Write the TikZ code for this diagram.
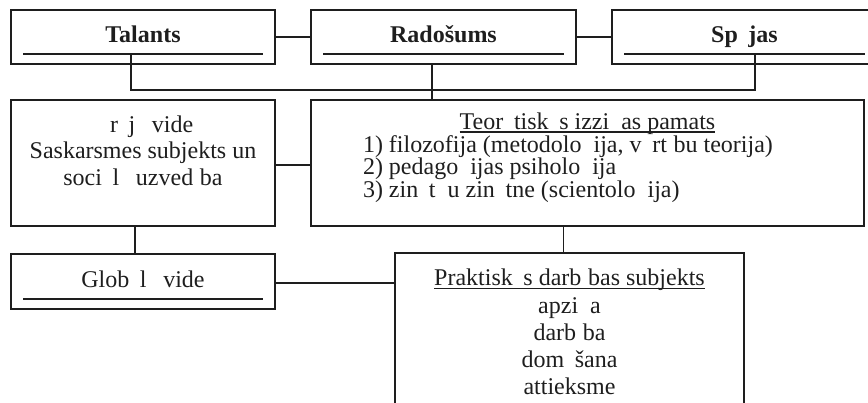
\documentclass[tikz,border=0pt]{standalone}
\usepackage{fontspec}
\setmainfont{Liberation Serif}
\newcommand\miss[1]{\phantom{#1}}
\definecolor{ink}{HTML}{1E1E1E}
\begin{document}
\begin{tikzpicture}[x=1pt,y=-1pt,
  box/.style={draw=ink,line width=1.7pt,inner sep=0pt,outer sep=0pt},
  conn/.style={draw=ink,line width=1.4pt},
  uline/.style={draw=ink,line width=1.3pt},
  txt/.style={inner sep=0pt,outer sep=0pt,anchor=base,text=ink,font=\fontsize{24}{27}\selectfont},
  ltxt/.style={txt,anchor=base west}]
\clip (0,0) rectangle (868,402);
\useasboundingbox (0,0) rectangle (868,402);
% boxes
\node[box,minimum width=264pt,minimum height=54pt] (tal) at (143,37) {};
\node[box,minimum width=265pt,minimum height=54pt] (rad) at (443.5,37) {};
\node[box,minimum width=265pt,minimum height=54pt] (spe) at (744.5,37) {};
\node[box,minimum width=264pt,minimum height=126pt] (sub) at (143,163) {};
\node[box,minimum width=553pt,minimum height=126pt] (teor) at (587.5,163) {};
\node[box,minimum width=264pt,minimum height=55pt] (glob) at (143,281.5) {};
\node[box,minimum width=349pt,minimum height=200pt] (prak) at (569.5,353) {};
% underlines in boxes
\foreach \b in {tal,rad,spe,glob}{
  \draw[uline] ([xshift=12pt,yshift=10pt]\b.south west) -- ([xshift=-12pt,yshift=10pt]\b.south east);
}
% texts
\node[txt,font=\fontsize{24}{27}\selectfont\bfseries] (talT) at (143,42) {Talants};
\node[txt,font=\fontsize{24}{27}\selectfont\bfseries] (radT) at (443.5,42) {Radošums};
\node[txt,font=\fontsize{24}{27}\selectfont\bfseries] (speT) at (744.5,42) {Sp\miss{ē}jas};
\node[txt] (sub1) at (143,132) {\miss{Ā}r\miss{ē}j\miss{ā} vide};
\node[txt] (sub2) at (143,158.5) {Saskarsmes subjekts un};
\node[txt] (sub3) at (143,185) {soci\miss{ā}l\miss{ā} uzved\miss{ī}ba};
\node[txt] (teorT) at (587.5,129) {Teor\miss{ē}tisk\miss{ā}s izzi\miss{ņ}as pamats};
\draw[uline] ([yshift=-3pt]teorT.base west) -- ([yshift=-3pt]teorT.base east);
\node[ltxt] (teor1) at (363,152) {1) filozofija (metodolo\miss{ģ}ija, v\miss{ē}rt\miss{ī}bu teorija)};
\node[ltxt] (teor2) at (363,174.5) {2) pedago\miss{ģ}ijas psiholo\miss{ģ}ija};
\node[ltxt] (teor3) at (363,197) {3) zin\miss{ā}t\miss{ņ}u zin\miss{ā}tne (scientolo\miss{ģ}ija)};
\node[txt] (globT) at (143,287) {Glob\miss{ā}l\miss{ā} vide};
\node[txt] (prakT) at (569.5,285) {Praktisk\miss{ā}s darb\miss{ī}bas subjekts};
\draw[uline] ([yshift=-3.3pt]prakT.base west) -- ([yshift=-3.3pt]prakT.base east);
\node[txt] (prak1) at (569.5,313) {apzi\miss{ņ}a};
\node[txt] (prak2) at (569.5,340) {darb\miss{ī}ba};
\node[txt] (prak3) at (569.5,367) {dom\miss{ā}šana};
\node[txt] (prak4) at (569.5,394) {attieksme};
% connectors
\coordinate (talU) at (131,54);
\coordinate (speU) at (755,54);
\coordinate (busL) at (131,90);
\coordinate (busR) at (755,90);
\draw[conn] (tal.east) -- (rad.west);
\draw[conn] (rad.east) -- (spe.west);
\draw[conn] (talU) -- (busL) -- (busR) -- (speU);
\draw[conn] ([xshift=-11.5pt]rad.south) -- ([xshift=-11.5pt]rad.south |- teor.north);
\draw[conn] ([yshift=-2pt]sub.east) -- ([yshift=-2pt]teor.west);
\draw[conn] ([xshift=-8pt]sub.south) -- ([xshift=-8pt]sub.south |- glob.north);
\draw[conn] ([xshift=-6pt]prak.north |- teor.south) -- ([xshift=-6pt]prak.north);
\draw[conn] ([yshift=-1.5pt]glob.east) -- ([yshift=-1.5pt]glob.east -| prak.west);
\end{tikzpicture}
\end{document}
